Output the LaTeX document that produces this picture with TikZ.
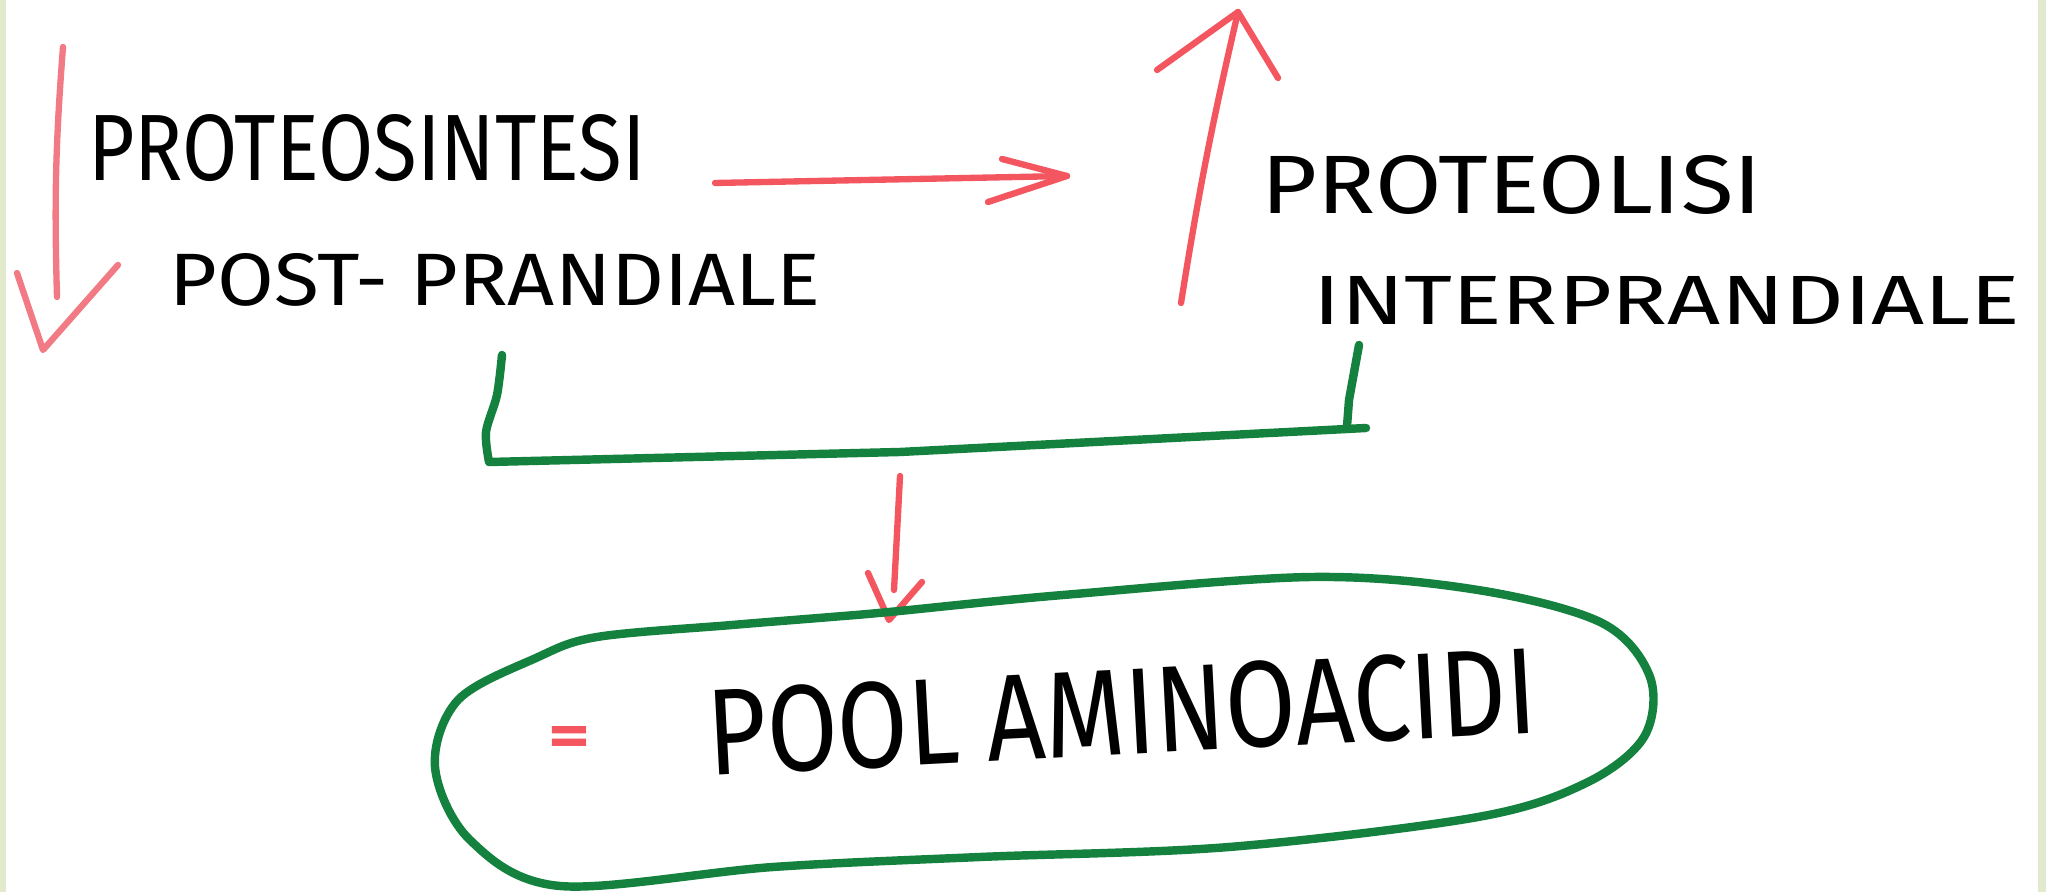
\documentclass[tikz,border=0pt]{standalone}
\usepackage{fontspec}
\setmainfont{Fira Sans}
\usepackage{graphicx}
\definecolor{R4}{RGB}{244,86,96}
\definecolor{P4}{RGB}{242,122,132}
\definecolor{G4}{RGB}{20,130,62}
\definecolor{E4}{RGB}{226,234,206}
\newcommand{\handtext}[3]{\resizebox{#1}{#2}{#3}}

\begin{document}
\begin{tikzpicture}[x=0.01cm, y=-0.01cm, line cap=round, line join=round,
    redpen/.style={R4, line width=1.8pt},
    pinkpen/.style={P4, line width=1.8pt},
    greenpen/.style={G4, line width=2.4pt},
    hand/.style={inner sep=0pt, font=\mdseries}]
      \useasboundingbox (0,0) rectangle (2046,892);
      \fill[E4] (0,0) rectangle (6,892);
      \fill[E4] (2038,0) rectangle (2046,892);
      % labels
      \node[hand] (synth) at (367,148) {\handtext{5.57cm}{0.66cm}{PROTEOSINTESI}};
      \node[hand] (post)  at (495,280) {\handtext{6.50cm}{0.52cm}{POST- PRANDIALE}};
      \node[hand] (lysis) at (1512,185) {\handtext{5.00cm}{0.58cm}{PROTEOLISI}};
      \node[hand] (inter) at (1667,300) {\handtext{7.06cm}{0.48cm}{INTERPRANDIALE}};
      \node[hand, rotate=3] (pool) at (1122,712) {\handtext{8.30cm}{0.86cm}{POOL AMINOACIDI}};
      \node[inner sep=0pt, R4] (eq) at (570,741) {\handtext{0.42cm}{0.30cm}{\bfseries =}};
      % arrow ends
      \coordinate (downtop) at (63,47);   \coordinate (downend) at (57,297);
      \coordinate (downl) at (17,273);    \coordinate (downtip) at (43,350);   \coordinate (downr) at (118,265);
      \coordinate (righta) at (715,183);  \coordinate (rightb) at (1067,176);
      \coordinate (rightu) at (1002,159); \coordinate (rightd) at (988,202);
      \coordinate (upend) at (1181,303);  \coordinate (uptip) at (1238,12);
      \coordinate (upl) at (1157,70);     \coordinate (upr) at (1278,78);
      \coordinate (poola) at (900,476);   \coordinate (poolb) at (894,590);
      \coordinate (pooll) at (868,573);   \coordinate (pooltip) at (889,620);  \coordinate (poolr) at (922,582);
      % arrows
      \draw[pinkpen] (downtop) to[bend right=3] (downend);
      \draw[pinkpen] (downl) -- (downtip) -- (downr);
      \draw[redpen] (righta) -- (rightb);
      \draw[redpen] (rightu) -- (rightb) -- (rightd);
      \draw[redpen] (upend) to[bend left=2] (uptip);
      \draw[redpen] (upl) -- (uptip) -- (upr);
      \draw[redpen] (poola) -- (poolb);
      \draw[redpen] (pooll) -- (pooltip) -- (poolr);
      % bracket
      \draw[greenpen] plot[smooth] coordinates {(502,355) (497,395) (486,432) (489,462)} -- (900,452) -- (1366,428);
      \draw[greenpen] (1359,345) -- (1349,400) -- (1347,426);
      % pool outline
      \draw[greenpen] plot[smooth cycle, tension=0.55] coordinates {(597,637) (732,625) (831,617) (889,612) (1063,595)
        (1312,577) (1478,590) (1602,623) (1650,677) (1644,737) (1586,783) (1478,817) (1229,847) (980,857)
        (773,867) (560,886) (470,840) (435,767) (458,700) (536,658)};
\end{tikzpicture}
\end{document}
